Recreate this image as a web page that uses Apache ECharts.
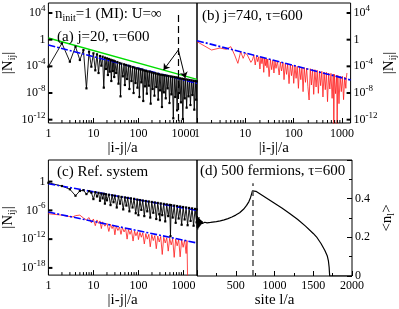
<!DOCTYPE html>
<html><head><meta charset="utf-8">
<script src="https://cdn.jsdelivr.net/npm/echarts/dist/echarts.min.js"></script>
<style>html,body{margin:0;padding:0;background:#fff;overflow:hidden}#c{width:399px;height:309px}</style>
</head><body><div id="c"></div>
<script>
// ---------- data (|N_ij| given as log10 values) ----------
// (a) j=20, tau=600 : black
const aX = [1,2,3,4,5,6,7,8,9,10,11,12,13,14,15,16,17,18,19,20,21,22,23,24,25,26,27,28,29,30,32,34,36,38,40,42,45,48,50,53,56,60,63,66,70,74,78,82,86,90,95,100,105,110,116,122,128,134,140,147,154,161,170,178,187,196,206,216,227,238,250,262,275,288,302,317,333,350,367,385,404,424,445,467,490,515,540,567,595,625,656,689,723,759,797,837,879,923,969,1017,1068,1121,1177,1236,1298,1363,1431,1503,1578,1657,1740,1827,1918,1980];
const aY = [-4.05,-0.55,-3.3,-1.05,-3.05,-1.55,-7.3,-1.8,-4.05,-2.05,-4.6,-2.2,-5.0,-2.45,-3.9,-2.55,-7.2,-2.7,-4.4,-2.8,-5.3,-2.9,-4.8,-3.0,-6.2,-3.1,-4.7,-3.15,-5.6,-3.25,-5.0,-3.35,-6.6,-3.5,-8.5,-3.6,-5.5,-3.7,-6.8,-3.8,-5.9,-3.9,-7.4,-4.0,-6.2,-4.1,-8.0,-4.2,-6.5,-4.3,-7.2,-4.35,-8.6,-4.45,-6.4,-4.5,-9.2,-4.6,-7.0,-4.7,-8.1,-4.75,-6.9,-4.8,-9.6,-4.9,-7.4,-5.0,-8.4,-5.05,-7.1,-5.1,-9.0,-5.2,-7.6,-5.25,-10.1,-5.3,-7.9,-5.35,-8.8,-5.4,-7.3,-5.45,-9.5,-5.5,-8.2,-5.55,-11.8,-5.6,-8.6,-5.65,-10.6,-5.7,-8.0,-5.8,-9.4,-5.85,-11.9,-5.9,-8.8,-5.95,-10.2,-6.0,-8.5,-6.05,-9.8,-6.1,-8.3,-6.15,-10.5,-6.2,-9.0,-6.25];
const aGreenX = [1, 2000], aGreenY = [0.25, -5.95];
const aBlueX = [1, 2000], aBlueY = [-0.8, -6.55];
const aFrontX = 770, aFrontTop = 3.7;
const aArrowFrom = [770, -1.55], aArrowL = [361, -4.55], aArrowR = [1094, -5.75];
// (b) j=740, tau=600 : red
const bX = [1,2,3,4,5,6,7,8,9,10,11,12,13,14,15,16,17,18,19,20,21,22,23,24,25,26,27,28,29,31,33,35,37,39,41,43,46,50,53,56,60,63,67,71,75,80,85,90,95,100,106,112,118,125,132,140,148,156,165,175,185,196,208,220,232,245,259,274,290,306,323,341,360,381,402,425,449,474,500,528,558,589,622,657,675,694,733,774,790,817,863,911,962,1016,1073,1133,1196,1230,1260];
const bY = [-0.3,-1.55,-1.25,-1.45,-1.05,-2.3,-3.55,-1.8,-2.8,-2.0,-2.3,-2.15,-3.4,-3.05,-2.3,-3.8,-2.5,-3.3,-2.55,-4.4,-2.6,-3.6,-2.7,-4.9,-2.75,-3.9,-2.85,-4.2,-2.9,-5.55,-3.0,-4.5,-3.1,-5.0,-3.15,-4.3,-3.25,-5.3,-3.35,-4.7,-3.45,-6.0,-3.55,-5.2,-3.6,-6.6,-3.7,-5.4,-3.8,-6.55,-3.9,-5.8,-4.0,-7.3,-4.05,-6.0,-4.1,-7.8,-4.2,-6.4,-4.25,-7.0,-9.05,-4.35,-6.8,-4.45,-8.2,-4.5,-7.1,-4.6,-8.05,-4.7,-6.9,-4.75,-8.6,-4.85,-7.5,-4.9,-9.3,-5.0,-7.4,-5.05,-8.8,-5.15,-13.5,-5.2,-8.1,-5.3,-13.5,-5.35,-9.6,-5.45,-7.8,-5.5,-9.0,-5.6,-7.3,-5.65,-5.0];
const bBlueX = [1, 1500], bBlueY = [-0.15, -6.05];
// (c) reference system : black and red
const cKX = [1,2,3,4,5,6,7,8,9,10,11,12,13,14,15,16,17,18,19,20,22,24,26,28,30,33,36,39,42,46,50,54,58,63,68,74,80,87,94,100,108,116,125,135,146,157,170,183,198,214,231,249,269,290,300,313,338,365,394,425,459,495,515,534,577,623,672,725,783,845,912,984,1062,1146,1237,1335,1441,1555,1679,1812,1955,1980];
const cKY = [-0.25,-0.93,-1.6,-2.95,-1.95,-1.8,-2.6,-2.0,-2.3,-3.65,-2.2,-3.1,-2.35,-4.0,-2.5,-3.5,-2.55,-4.6,-2.65,-3.9,-2.75,-4.9,-2.85,-4.3,-2.95,-5.4,-3.1,-4.6,-3.2,-5.8,-3.3,-5.0,-3.4,-6.2,-3.5,-5.4,-3.6,-6.6,-3.75,-7.0,-3.85,-5.9,-3.95,-7.2,-4.05,-6.2,-4.15,-7.5,-4.25,-6.5,-4.35,-7.8,-4.45,-6.8,-8.05,-4.55,-7.0,-4.65,-8.3,-4.75,-7.2,-4.85,-11.4,-4.9,-7.5,-5.0,-8.6,-5.1,-7.7,-5.2,-9.0,-5.3,-7.9,-5.4,-9.1,-5.5,-8.2,-5.6,-9.2,-5.7,-8.5,-5.8];
const cRX = [1,2,3,3.5,4,5,6,7,8,9,10,11,12,13,14,15,16,18,20,22,24,26,28,30,32,35,38,41,44,48,52,56,60,65,70,76,82,88,95,100,108,116,125,135,146,157,170,183,198,214,231,249,269,290,313,338,365,394,425,459,495,534,577,623,672,725,783,845,912,984,1062,1146,1200,1240];
const cRY = [-6.7,-7.0,-7.3,-7.35,-7.1,-7.0,-7.6,-8.0,-7.5,-8.6,-7.8,-9.2,-8.0,-8.7,-8.2,-9.8,-8.4,-9.3,-8.7,-10.4,-8.9,-9.8,-9.1,-11.1,-9.3,-10.2,-9.5,-11.0,-9.6,-10.5,-9.8,-12.0,-10.0,-11.0,-10.15,-12.4,-10.3,-11.3,-10.45,-12.1,-10.6,-11.6,-10.7,-13.0,-10.85,-12.0,-11.0,-13.6,-11.1,-12.3,-11.25,-14.0,-11.35,-12.6,-11.45,-15.2,-11.6,-12.8,-11.7,-14.5,-11.8,-13.2,-11.9,-15.8,-12.0,-13.4,-12.05,-15.7,-12.15,-13.7,-12.25,-15.0,-12.3,-21];
const cBlue1X = [1, 2000], cBlue1Y = [-0.45, -6.0];
const cBlue2X = [1, 2000], cBlue2Y = [-6.35, -12.8];
// (d) 500 fermions, tau=600 : density profile
const dX = [0,5,10,15,20,25,30,35,40,45,50,55,60,65,70,80,90,100,110,120,130,140,150,175,200,250,300,350,400,450,500,550,600,640,670,690,705,715,722,760,800,900,1000,1100,1200,1300,1400,1500,1550,1600,1650,1680,1695,1705,1712,1800,1900,2000];
const dY = [0.25,0.31,0.24,0.30,0.25,0.305,0.255,0.295,0.26,0.29,0.265,0.287,0.27,0.284,0.272,0.28,0.273,0.278,0.274,0.277,0.275,0.277,0.276,0.277,0.279,0.281,0.285,0.29,0.297,0.305,0.315,0.327,0.345,0.365,0.385,0.405,0.425,0.44,0.447,0.438,0.428,0.402,0.376,0.35,0.322,0.292,0.258,0.22,0.198,0.168,0.132,0.105,0.08,0.045,0,0,0,0];
const dFront = 720, dFrontTop = 0.48;

// ---------- tick arrays ----------
const logMinor = [];
for (let d = 0; d < 4; d++) for (let k = 2; k <= 9; k++) logMinor.push(k * Math.pow(10, d));
const abMajorExp = [-12, -8, -4, 0, 4];
const cMajorExp = [-18, -12, -6, 0];

// ---------- helpers ----------
const L10 = Math.log10;
const pairs = (xs, ys) => xs.map((x, i) => [L10(x), ys[i]]);
const FONT = 'Liberation Serif';
const supRich = { s: { fontSize: 9, fontFamily: FONT, color: '#000', padding: [0, 0, 9, 0] } };
const subRich = { b: { fontSize: 15, fontFamily: FONT, fontWeight: 'normal', color: '#000' }, sub: { fontSize: 10, fontFamily: FONT, fontWeight: 'normal', color: '#000', padding: [8, 0, 0, 0] } };
const logFmt = step => v => { const r = Math.round(v); if (Math.abs(v - r) > 1e-6 || r % step !== 0) return ''; return r === 0 ? '1' : '10{s|' + r + '}'; };
const xLogFmt = v => { const r = Math.round(v); if (Math.abs(v - r) > 1e-6) return ''; return String(Math.pow(10, r)); };
const labelBase = { fontFamily: FONT, fontSize: 12, color: '#000' };
const noLine = { show: false, onZero: false };
function xLog(idx, max, name) {
  return { gridIndex: idx, type: 'value', min: 0, max: L10(max), interval: 1, position: 'bottom', axisLine: noLine, splitLine: { show: false },
    axisTick: { show: true, inside: true, length: 5, lineStyle: { color: '#000' } },
    axisLabel: Object.assign({ formatter: xLogFmt, margin: 5 }, labelBase),
    name: name, nameLocation: 'middle', nameGap: 17, nameTextStyle: { fontFamily: FONT, fontSize: 15, color: '#000' } };
}
function yLog(idx, min, max, step, pos) {
  return { gridIndex: idx, type: 'value', min: min, max: max, interval: 0.5, position: pos, axisLine: noLine, splitLine: { show: false }, axisTick: { show: false },
    axisLabel: Object.assign({ formatter: logFmt(step), margin: 3, rich: supRich }, labelBase),
    name: '{b||N}{sub|ij}{b||}', nameLocation: 'middle', nameGap: pos === 'left' ? 24 : 26, nameRotate: 90, nameTextStyle: { rich: subRich } };
}
function tickSeries(idx, pts, dx, dy, len, w) {
  return { type: 'custom', xAxisIndex: idx, yAxisIndex: idx, silent: true, clip: false, z: 5, encode: { x: 0, y: 1 }, data: pts,
    renderItem: (p, api) => { const c = api.coord([api.value(0), api.value(1)]);
      return { type: 'line', shape: { x1: c[0], y1: c[1], x2: c[0] + dx * len, y2: c[1] + dy * len }, style: { stroke: '#000', lineWidth: w } }; } };
}
const blueStyle = { color: '#0000ff', width: 1.6, type: [7, 2, 2, 2] };
function line(idx, data, color, width, extra) {
  return Object.assign({ type: 'line', xAxisIndex: idx, yAxisIndex: idx, data: data, showSymbol: false, lineStyle: { color: color, width: width }, itemStyle: { color: color }, silent: true }, extra || {});
}
const plainText = { fontFamily: FONT, fontSize: 15, fontWeight: 'normal', color: '#000' };

const option = {
  animation: false, backgroundColor: '#fff',
  grid: [
    { left: 46, top: 3, width: 151, height: 120, show: true, borderColor: '#000', borderWidth: 1, backgroundColor: 'transparent' },
    { left: 197, top: 3, width: 155, height: 120, show: true, borderColor: '#000', borderWidth: 1, backgroundColor: 'transparent' },
    { left: 46, top: 160, width: 151, height: 118, show: true, borderColor: '#000', borderWidth: 1, backgroundColor: 'transparent' },
    { left: 197, top: 160, width: 155, height: 118, show: true, borderColor: '#000', borderWidth: 1, backgroundColor: 'transparent' }
  ],
  xAxis: [ xLog(0, 2000, '|i-j|/a'), xLog(1, 1500, '|i-j|/a'), xLog(2, 2000, '|i-j|/a'),
    { gridIndex: 3, type: 'value', min: 0, max: 2000, interval: 500, position: 'bottom', axisLine: noLine, splitLine: { show: false },
      axisTick: { show: true, inside: true, length: 5, lineStyle: { color: '#000' } },
      minorTick: { show: true, splitNumber: 2, length: 3, lineStyle: { color: '#000' } },
      axisLabel: Object.assign({ formatter: v => v === 0 ? '' : String(v), margin: 4 }, labelBase),
      name: 'site l/a', nameLocation: 'middle', nameGap: 17, nameTextStyle: { fontFamily: FONT, fontSize: 15, color: '#000' } } ],
  yAxis: [ yLog(0, -12.5, 5.5, 4, 'left'), yLog(1, -12.5, 5.5, 4, 'right'), yLog(2, -19.5, 4.5, 6, 'left'),
    { gridIndex: 3, type: 'value', min: 0, max: 0.6, interval: 0.2, position: 'right', axisLine: noLine, splitLine: { show: false },
      axisTick: { show: true, inside: true, length: 5, lineStyle: { color: '#000' } },
      minorTick: { show: true, splitNumber: 2, length: 3, lineStyle: { color: '#000' } },
      axisLabel: Object.assign({ formatter: v => v > 0.55 ? '' : (v === 0 ? '0' : v.toFixed(1)), margin: 3 }, labelBase),
      name: '{b|<n}{sub|l}{b|>}', nameLocation: 'middle', nameGap: 26, nameRotate: 90, nameTextStyle: { rich: subRich } } ],
  title: [
    { text: '{b|n}{sub|init}{b|=1 (MI): U=∞}', left: 55, top: 5, padding: 0, textStyle: { fontWeight: 'normal', rich: subRich } },
    { text: '(a) j=20, τ=600', left: 57, top: 30, padding: 0, textStyle: plainText },
    { text: '(b) j=740, τ=600', left: 202, top: 9, padding: 0, textStyle: plainText },
    { text: '(c) Ref. system', left: 57, top: 165, padding: 0, textStyle: plainText },
    { text: '(d) 500 fermions, τ=600', left: 200, top: 164, padding: 0, textStyle: plainText }
  ],
  series: [
    line(0, pairs(aX, aY), '#000', 0.9, { showSymbol: true, symbol: 'rect', symbolSize: 2.2 }),
    line(0, pairs(aGreenX, aGreenY), '#00dd00', 1.3),
    line(0, pairs(aBlueX, aBlueY), '#0000ff', 1.6, { lineStyle: blueStyle }),
    line(0, [], '#000', 1, { markLine: { silent: true, symbol: ['none', 'arrow'], symbolSize: 6, label: { show: false },
      data: [
        [{ coord: [L10(aFrontX), aFrontTop], symbol: 'none' }, { coord: [L10(aFrontX), -12.5], symbol: 'none', lineStyle: { type: [7, 4], color: '#000', width: 1.2 } }],
        [{ coord: [L10(aArrowFrom[0]), aArrowFrom[1]] }, { coord: [L10(aArrowL[0]), aArrowL[1]], lineStyle: { type: 'solid', color: '#000', width: 1 } }],
        [{ coord: [L10(aArrowFrom[0]), aArrowFrom[1]] }, { coord: [L10(aArrowR[0]), aArrowR[1]], lineStyle: { type: 'solid', color: '#000', width: 1 } }]
      ] } }),
    line(1, pairs(bX, bY), '#ff1a1a', 0.8),
    line(1, pairs(bBlueX, bBlueY), '#0000ff', 1.6, { lineStyle: blueStyle }),
    line(2, pairs(cKX, cKY), '#000', 0.9, { showSymbol: true, symbol: 'rect', symbolSize: 2.2 }),
    line(2, pairs(cRX, cRY), '#ff1a1a', 0.8),
    line(2, pairs(cBlue1X, cBlue1Y), '#0000ff', 1.6, { lineStyle: blueStyle }),
    line(2, pairs(cBlue2X, cBlue2Y), '#0000ff', 1.6, { lineStyle: blueStyle }),
    line(3, dX.map((x, i) => [x, dY[i]]), '#000', 1.2, { markLine: { silent: true, symbol: 'none', label: { show: false },
      lineStyle: { color: '#555', width: 1.6, type: [6, 4] }, data: [[{ coord: [dFront, 0] }, { coord: [dFront, dFrontTop] }]] } }),
    // minor ticks of the log x axes and major ticks of the log y axes
    tickSeries(0, logMinor.filter(v => v < 2000).map(v => [L10(v), -12.5]), 0, -1, 3, 1),
    tickSeries(1, logMinor.filter(v => v < 1500).map(v => [L10(v), -12.5]), 0, -1, 3, 1),
    tickSeries(2, logMinor.filter(v => v < 2000).map(v => [L10(v), -19.5]), 0, -1, 3, 1),
    tickSeries(0, abMajorExp.map(e => [0, e]), 1, 0, 4, 2),
    tickSeries(1, abMajorExp.map(e => [L10(1500), e]), -1, 0, 4, 2),
    tickSeries(2, cMajorExp.map(e => [0, e]), 1, 0, 4, 2)
  ]
};
const chart = echarts.init(document.getElementById('c'));
chart.setOption(option);
</script></body></html>
